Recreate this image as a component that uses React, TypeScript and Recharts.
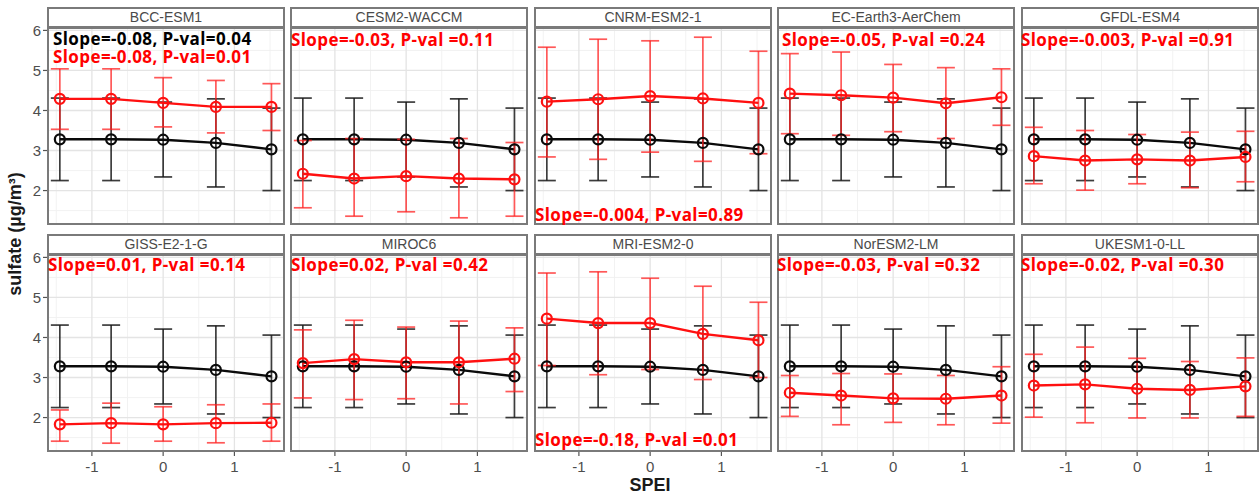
import React from 'react';
import { ComposedChart, Line, XAxis, YAxis, ErrorBar, ReferenceLine } from 'recharts';

// ---------- data ----------
const spei = [-1.45, -0.73, 0, 0.74, 1.52];
const xTicks = [-1, 0, 1];
const yTicks = [2, 3, 4, 5, 6];
const xMinor = [-1.5, -0.5, 0.5, 1.5];
const yMinor = [1.5, 2.5, 3.5, 4.5, 5.5];

const models = [
  'BCC-ESM1', 'CESM2-WACCM', 'CNRM-ESM2-1', 'EC-Earth3-AerChem', 'GFDL-ESM4',
  'GISS-E2-1-G', 'MIROC6', 'MRI-ESM2-0', 'NorESM2-LM', 'UKESM1-0-LL',
];

// observed (black) series, identical in every panel
const obsMean = [3.28, 3.28, 3.27, 3.19, 3.03];
const obsLow = [2.25, 2.25, 2.34, 2.09, 2.0];
const obsHigh = [4.31, 4.31, 4.21, 4.29, 4.06];

// model (red) series, one row per model
const modMean = [
  [4.29, 4.29, 4.19, 4.09, 4.09],
  [2.42, 2.3, 2.36, 2.3, 2.28],
  [4.22, 4.28, 4.36, 4.3, 4.19],
  [4.42, 4.38, 4.32, 4.18, 4.33],
  [2.86, 2.75, 2.78, 2.75, 2.84],
  [1.83, 1.86, 1.83, 1.86, 1.87],
  [3.36, 3.46, 3.38, 3.38, 3.47],
  [4.47, 4.36, 4.36, 4.09, 3.93],
  [2.62, 2.55, 2.48, 2.47, 2.55],
  [2.8, 2.83, 2.72, 2.69, 2.78],
];
const modLow = [
  [3.53, 3.53, 3.59, 3.44, 3.5],
  [1.57, 1.36, 1.47, 1.32, 1.36],
  [2.84, 2.78, 2.96, 2.73, 2.92],
  [3.42, 3.38, 3.47, 3.3, 3.63],
  [2.17, 2.01, 2.17, 2.07, 2.22],
  [1.41, 1.36, 1.41, 1.37, 1.41],
  [2.49, 2.45, 2.47, 2.34, 2.65],
  [3.3, 3.07, 3.2, 2.95, 3.0],
  [2.03, 1.82, 1.88, 1.82, 1.86],
  [2.01, 1.87, 1.99, 1.99, 2.03],
];
const modHigh = [
  [5.04, 5.04, 4.82, 4.75, 4.67],
  [3.25, 3.3, 3.28, 3.3, 3.2],
  [5.58, 5.78, 5.74, 5.83, 5.48],
  [5.42, 5.46, 5.15, 5.07, 5.04],
  [3.58, 3.5, 3.4, 3.46, 3.48],
  [2.19, 2.36, 2.27, 2.32, 2.34],
  [4.19, 4.43, 4.26, 4.41, 4.24],
  [5.61, 5.64, 5.48, 5.28, 4.88],
  [3.05, 3.1, 3.09, 3.05, 3.27],
  [3.58, 3.76, 3.48, 3.4, 3.49],
];

const redLabels = [
  'Slope=-0.08, P-val=0.01',
  'Slope=-0.03, P-val =0.11',
  'Slope=-0.004, P-val=0.89',
  'Slope=-0.05, P-val =0.24',
  'Slope=-0.003, P-val =0.91',
  'Slope=0.01, P-val =0.14',
  'Slope=0.02, P-val =0.42',
  'Slope=-0.18, P-val =0.01',
  'Slope=-0.03, P-val =0.32',
  'Slope=-0.02, P-val =0.30',
];
const blackLabel = 'Slope=-0.08, P-val=0.04';

// ---------- layout ----------
const colLefts = [47, 290, 534, 777, 1021];
const stripTops = [7, 234];
const PW = 238;
const PH = 197;
const SH = 21;
const YW = 47;
const XH = 30;
const TOPM = 10;
const X_DOMAIN: [number, number] = [-1.63, 1.71];
const Y_DOMAIN: [number, number] = [1.14, 6.06];

const labelLefts = [53, 291, 535, 782, 1021, 48, 291, 535, 777, 1021];
const labelCenters = [58, 40, 215, 40, 40, 265, 265, 440, 265, 265];

const FONT = '"Liberation Sans", Arial, sans-serif';
const LABEL_FONT = '"Open Sans", "Noto Sans", sans-serif';
const BORDER = '#7a7a7a';

function Panel({ idx }: { idx: number }) {
  const row = Math.floor(idx / 5);
  const col = idx % 5;
  const showY = col === 0;
  const showX = row === 1;
  const plotLeft = colLefts[col];
  const stripTop = stripTops[row];
  const plotTop = stripTop + SH;
  const w = PW + (showY ? YW : 0);
  const h = PH + TOPM + (showX ? XH : 0);
  const data = spei.map((x, i) => ({
    x,
    obs: obsMean[i],
    obsErr: [obsMean[i] - obsLow[i], obsHigh[i] - obsMean[i]],
    mod: modMean[idx][i],
    modErr: [modMean[idx][i] - modLow[idx][i], modHigh[idx][i] - modMean[idx][i]],
  }));
  return (
    <>
      <div style={{ position: 'absolute', left: plotLeft - (showY ? YW : 0), top: plotTop - TOPM }}>
        <ComposedChart width={w} height={h} data={data} margin={{ top: TOPM, right: 0, left: 0, bottom: 0 }}>
          <XAxis
            type="number"
            dataKey="x"
            domain={X_DOMAIN}
            ticks={xTicks}
            allowDataOverflow
            hide={!showX}
            height={XH}
            axisLine={false}
            tickSize={4}
            tickMargin={5}
            tickLine={{ stroke: '#555', strokeWidth: 1.2 }}
            tick={{ fill: '#4d4d4d', fontSize: 15, fontFamily: FONT }}
            interval={0}
          />
          <YAxis
            type="number"
            domain={Y_DOMAIN}
            ticks={yTicks}
            allowDataOverflow
            hide={!showY}
            width={YW}
            axisLine={false}
            tickSize={4}
            tickMargin={2}
            tickLine={{ stroke: '#555', strokeWidth: 1.2 }}
            tick={{ fill: '#4d4d4d', fontSize: 15, fontFamily: FONT }}
            interval={0}
          />
          {xMinor.map((v) => (
            <ReferenceLine key={'xm' + v} x={v} stroke="#f0f0f0" strokeWidth={0.9} />
          ))}
          {yMinor.map((v) => (
            <ReferenceLine key={'ym' + v} y={v} stroke="#f0f0f0" strokeWidth={0.9} />
          ))}
          {xTicks.map((v) => (
            <ReferenceLine key={'xM' + v} x={v} stroke="#e4e4e4" strokeWidth={1.3} />
          ))}
          {yTicks.map((v) => (
            <ReferenceLine key={'yM' + v} y={v} stroke="#e4e4e4" strokeWidth={1.3} />
          ))}
          <Line
            dataKey="obs"
            stroke="#0a0a0a"
            strokeWidth={2.4}
            isAnimationActive={false}
            dot={{ r: 5, fill: 'none', stroke: '#0a0a0a', strokeWidth: 2.2 }}
            activeDot={false}
          >
            <ErrorBar dataKey="obsErr" stroke="#1a1a1a" strokeOpacity={0.85} strokeWidth={1.7} width={9} isAnimationActive={false} />
          </Line>
          <Line
            dataKey="mod"
            stroke="#ff1010"
            strokeWidth={2.4}
            isAnimationActive={false}
            dot={{ r: 5, fill: 'none', stroke: '#ff1010', strokeWidth: 2.2 }}
            activeDot={false}
          >
            <ErrorBar dataKey="modErr" stroke="#ff2020" strokeOpacity={0.75} strokeWidth={1.7} width={9} isAnimationActive={false} />
          </Line>
        </ComposedChart>
      </div>
      <div
        style={{
          position: 'absolute',
          left: plotLeft,
          top: stripTop,
          width: PW,
          height: SH,
          boxSizing: 'border-box',
          border: `2px solid ${BORDER}`,
          background: '#ffffff',
          color: '#4a4a4a',
          fontFamily: FONT,
          fontSize: 14,
          lineHeight: `${SH - 4}px`,
          textAlign: 'center',
        }}
      >
        {models[idx]}
      </div>
      <div
        style={{
          position: 'absolute',
          left: plotLeft,
          top: plotTop - 1,
          width: PW,
          height: PH + 1,
          boxSizing: 'border-box',
          border: `2px solid ${BORDER}`,
          pointerEvents: 'none',
        }}
      />
    </>
  );
}

const labelBase: React.CSSProperties = {
  position: 'absolute',
  fontFamily: LABEL_FONT,
  fontWeight: 700,
  fontSize: 17,
  letterSpacing: 0.4,
  whiteSpace: 'nowrap',
};

export default function App() {
  return (
    <div style={{ position: 'absolute', left: 0, top: 0, width: 1260, height: 498, background: '#fff', overflow: 'hidden' }}>
      {models.map((_, i) => (
        <Panel key={i} idx={i} />
      ))}
      {/* BCC panel: two stacked labels in one block */}
      <div style={{ ...labelBase, left: labelLefts[0], top: 30, lineHeight: '18px' }}>
        <span style={{ color: '#000' }}>{blackLabel}</span>
        <br />
        <span style={{ color: '#ff0000' }}>{redLabels[0]}</span>
      </div>
      {redLabels.map((t, i) =>
        i === 0 ? null : (
          <div
            key={i}
            style={{ ...labelBase, left: labelLefts[i], top: labelCenters[i] - 7, height: 14, lineHeight: '14px', color: '#ff0000' }}
          >
            {t}
          </div>
        )
      )}
      <div
        style={{
          position: 'absolute',
          left: 600,
          top: 475,
          width: 100,
          textAlign: 'center',
          fontFamily: FONT,
          fontWeight: 700,
          fontSize: 18,
          color: '#1a1a1a',
        }}
      >
        SPEI
      </div>
      <div
        style={{
          position: 'absolute',
          left: 15 - 100,
          top: 234 - 11,
          width: 200,
          height: 22,
          lineHeight: '22px',
          textAlign: 'center',
          transform: 'rotate(-90deg)',
          fontFamily: FONT,
          fontWeight: 700,
          fontSize: 18,
          color: '#1a1a1a',
          whiteSpace: 'nowrap',
        }}
      >
        sulfate (µg/m³)
      </div>
    </div>
  );
}
